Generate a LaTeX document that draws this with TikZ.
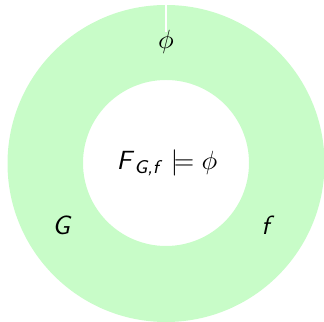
\documentclass[tikz,border=0pt]{standalone}
\usepackage{tikz}
\usepackage{amsmath}
\definecolor{ringgreen}{RGB}{200,252,200}
\newcommand{\sv}[1]{\textsf{\textit{#1}}}

\begin{document}
\begin{tikzpicture}[
  x=0.38pt, y=-0.38pt,
  lbl/.style={inner sep=0pt,font=\normalsize}
]
\useasboundingbox (0,0) rectangle (324,322);
% ring
\fill[ringgreen,even odd rule] (166,163.5) circle[radius=158.5] (166,163) circle[radius=83];
\draw[white,line width=0.4pt] (166,4) -- (166,32);
% labels
\node[lbl] (phi) at (166,42) {$\phi$};
\node[lbl] (claim) at (167,163) {$\sv{F}_{\sv{G,f}}\models\phi$};
\node[lbl] (graph) at (62,225) {\sv{G}};
\node[lbl] (func) at (268,225) {\sv{f}};
\end{tikzpicture}
\end{document}
